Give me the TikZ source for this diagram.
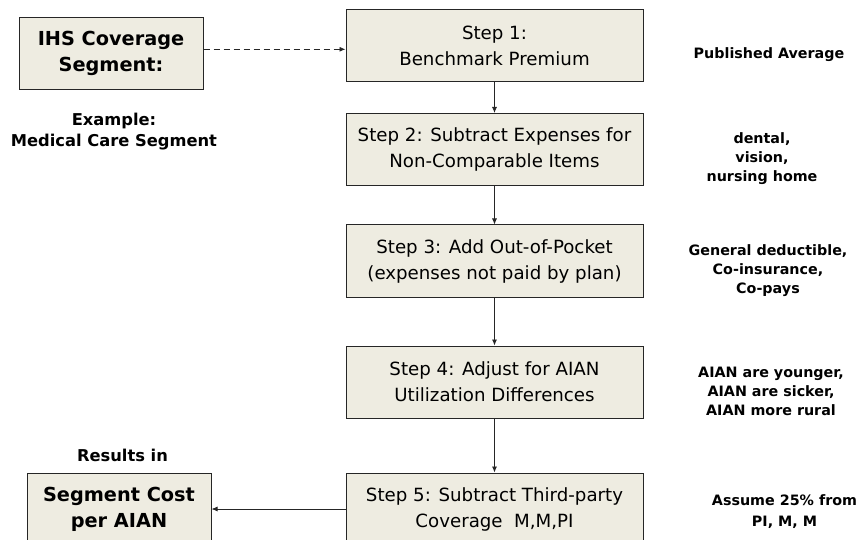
\documentclass[tikz,border=0pt]{standalone}
\usepackage{fontspec}
\setmainfont{DejaVu Sans}
\usetikzlibrary{arrows,arrows.meta,positioning}
\definecolor{boxfill}{HTML}{EEECE1}
\tikzset{
	stepbox/.style={draw=black!85, fill=boxfill, line width=1pt, minimum width=297pt, minimum height=72pt, inner sep=0pt, align=center, font=\fontsize{18.2}{26}\selectfont},
	keybox/.style={draw=black!85, fill=boxfill, line width=1pt, minimum width=184pt, minimum height=72pt, inner sep=0pt, align=center, font=\fontsize{19.3}{26}\selectfont\bfseries},
	note/.style={align=center, inner sep=0pt, font=\fontsize{14.3}{19}\selectfont\bfseries},
	flow/.style={-{Latex[length=6pt,width=5pt]}, black!85, line width=0.8pt}
}
\begin{document}
\begin{tikzpicture}[x=1pt, y=-1pt]
				\useasboundingbox (0,0) rectangle (862,540);
				\clip (0,0) rectangle (862,540);
				% flow of steps
				\node[stepbox] (step1) at (494.5,45.5) {Step 1:\\Benchmark Premium};
				\node[stepbox] (step2) at (494.5,149.5) {Step 2: Subtract Expenses for\\Non-Comparable Items};
				\node[stepbox] (step3) at (494.5,261) {Step 3: Add Out-of-Pocket\\(expenses not paid by plan)};
				\node[stepbox] (step4) at (494.5,382) {Step 4: Adjust for AIAN\\Utilization Differences};
				\node[stepbox] (step5) at (494.5,509) {Step 5: Subtract Third-party\\Coverage\ \ M,M,PI};
				% left side
				\node[keybox] (ihs) at (111,53.3) {IHS Coverage\\Segment:};
				\node[keybox] (result) at (119,509) {Segment Cost\\per AIAN};
				\node[note, font=\fontsize{16.3}{21}\selectfont\bfseries] (example) at (114,132) {Example:\\Medical Care Segment};
				\node[note, font=\fontsize{16.3}{21}\selectfont\bfseries] (resultsin) at (122.5,455) {Results in};
				% right side
				\node[note] (avg) at (769,54.5) {Published Average};
				\node[note] (noncomp) at (762,159) {dental,\\vision,\\nursing home};
				\node[note] (oop) at (768,271) {General deductible,\\Co-insurance,\\Co-pays};
				\node[note] (util) at (771,391) {AIAN are younger,\\AIAN are sicker,\\AIAN more rural};
				\node[note, font=\fontsize{14.3}{20.5}\selectfont\bfseries] (third) at (784.5,511.5) {Assume 25\% from\\PI, M, M};
				% connectors
				\draw[flow] (step1) -- (step2);
				\draw[flow] (step2) -- (step3);
				\draw[flow] (step3) -- (step4);
				\draw[flow] (step4) -- (step5);
				\draw[flow] (step5) -- (result);
				\draw[flow, dash pattern=on 6pt off 4pt] ([yshift=4pt]ihs.east) coordinate (dash) -- (dash -| step1.west);
				\end{tikzpicture}
\end{document}
